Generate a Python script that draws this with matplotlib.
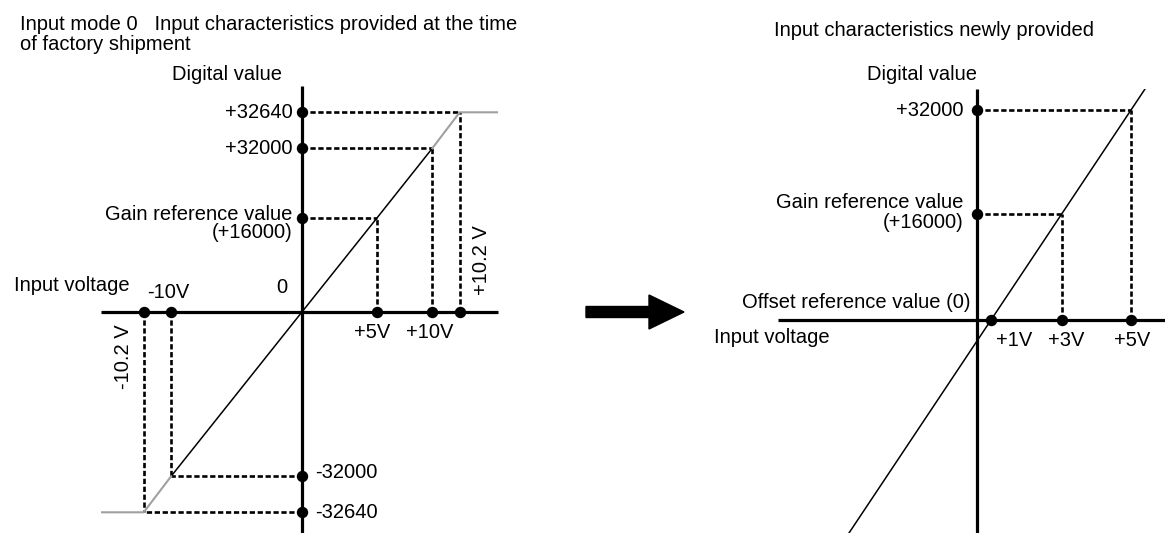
import numpy as np
import matplotlib
matplotlib.use("Agg")
import matplotlib.pyplot as plt
from matplotlib.patches import FancyArrow

plt.rcParams['font.family'] = ['Liberation Sans', 'DejaVu Sans']
plt.rcParams['font.size'] = 14.5

# factory characteristics (input mode 0)
fac_volts = [-10.2, -10, 5, 10, 10.2]
fac_digits = [32640, 32000, 16000, -32000, -32640]
fac_volt_labels = ['-10.2 V', '-10V', '+5V', '+10V', '+10.2 V']
fac_line_v = [-10, 0, 5, 10]
fac_line_d = [-32000, 0, 16000, 32000]
fac_clamp = 32640
fac_clamp_v = 10.2

# user characteristics
new_volts = [1, 3, 5]
new_digits = [32000, 16000]
new_pairs = [(3, 16000), (5, 32000)]
new_volt_labels = ['+1V', '+3V', '+5V']

W, H = 1165, 533
PT = 0.72  # points per pixel at 100 dpi


def piecewise(vals, pos):
    """Monotone piecewise-linear mapping used to stretch the schematic axes."""
    vals = np.asarray(vals, float)
    pos = np.asarray(pos, float)

    def make(a, b):
        s0 = (b[1] - b[0]) / (a[1] - a[0])
        s1 = (b[-1] - b[-2]) / (a[-1] - a[-2])

        def f(v):
            v = np.asarray(v, float)
            out = np.interp(v, a, b)
            out = np.where(v < a[0], b[0] + (v - a[0]) * s0, out)
            out = np.where(v > a[-1], b[-1] + (v - a[-1]) * s1, out)
            return out
        return f
    return make(vals, pos), make(pos, vals)


def setup(ax, xmap, ymap, box, origin):
    x0, x1, ytop, ybot = box
    ox, oy = origin
    ax.set_position([x0 / W, 1 - ybot / H, (x1 - x0) / W, (ybot - ytop) / H])
    fx, ix = piecewise(*xmap)
    fy, iy = piecewise(*ymap)
    ax.set_xscale('function', functions=(fx, ix))
    ax.set_yscale('function', functions=(fy, iy))
    ax.set_xlim(float(ix(x0 - ox)), float(ix(x1 - ox)))
    ax.set_ylim(float(iy(oy - ybot)), float(iy(oy - ytop)))
    for s in ['top', 'right']:
        ax.spines[s].set_visible(False)
    for s in ['left', 'bottom']:
        ax.spines[s].set_position(('data', 0))
        ax.spines[s].set_linewidth(2.3)
        ax.spines[s].set_capstyle('butt')
    ax.set_xticks([])
    ax.set_yticks([])
    ax.patch.set_alpha(0)


def dashed(ax, xs, ys):
    ax.plot(xs, ys, color='black', lw=1.9, linestyle=(0, (2.0, 1.0)),
            dash_capstyle='butt', zorder=2)


def label(ax, text, xy, dx, dy, **kw):
    ax.annotate(text, xy=xy, xytext=(dx * PT, dy * PT), textcoords='offset points',
                annotation_clip=False, **kw)


fig = plt.figure(figsize=(W / 100, H / 100), dpi=100)

# ---- left: factory shipment ----
ax1 = fig.add_axes([0, 0, 1, 1])
setup(ax1,
      ([-10.2, -10, 0, 5, 10, 10.2], [-158, -130.6, 0, 75, 130.6, 158]),
      ([-32640, -32000, -16000, 0, 16000, 32000, 32640], [-200, -164, -94, 0, 94, 164, 200]),
      (101, 498, 86, 533), (301.7, 312.3))

xl = ax1.get_xlim()
ax1.plot(fac_line_v, fac_line_d, color='black', lw=1.1, zorder=3)
ax1.plot([fac_line_v[-1], fac_clamp_v, xl[1]], [fac_line_d[-1], fac_clamp, fac_clamp],
         color='#a0a0a0', lw=1.5, zorder=3)
ax1.plot([-fac_line_v[-1], -fac_clamp_v, xl[0]], [-fac_line_d[-1], -fac_clamp, -fac_clamp],
         color='#a0a0a0', lw=1.5, zorder=3)

for v in fac_volts:
    d = np.interp(v, [-10.2, -10, 0, 10, 10.2], [-32640, -32000, 0, 32000, 32640])
    dashed(ax1, [v, v], [0, d])
    dashed(ax1, [0, v], [d, d])

ax1.plot(fac_volts, [0] * len(fac_volts), 'o', color='black', ms=7.2, zorder=4, clip_on=False)
ax1.plot([0] * len(fac_digits), fac_digits, 'o', color='black', ms=7.2, zorder=4, clip_on=False)

for val in fac_digits[:2]:
    label(ax1, f'+{val}', (0, val), -9.4, 0, ha='right', va='center')
label(ax1, 'Gain reference value\n(+16000)', (0, 16000), -9.4, -5, ha='right', va='center',
      multialignment='right', linespacing=0.9)
label(ax1, '-32000', (0, -32000), 13.3, 4, ha='left', va='center')
label(ax1, '-32640', (0, -32640), 13.3, 0, ha='left', va='center')
label(ax1, '0', (0, 0), -19.7, 25, ha='center', va='center')
label(ax1, fac_volt_labels[1], (-10, 0), -3, 19.3, ha='center', va='center')
label(ax1, fac_volt_labels[2], (5, 0), -5, -20.4, ha='center', va='center')
label(ax1, fac_volt_labels[3], (10, 0), -2.3, -20.4, ha='center', va='center')
label(ax1, fac_volt_labels[0], (-10.2, 0), -20.3, -44.7, ha='center', va='center', rotation=90)
label(ax1, fac_volt_labels[4], (10.2, 0), 22.2, 52, ha='center', va='center', rotation=90)
label(ax1, 'Input voltage', (0, 0), -287.7, 27, ha='left', va='center')
ax1.annotate('Digital value', xy=(0, 1), xycoords=('data', 'axes fraction'),
             xytext=(-74.7 * PT, 11 * PT), textcoords='offset points',
             ha='center', va='center', annotation_clip=False)

fig.text(19.6 / W, 1 - 25 / H, 'Input mode 0   Input characteristics provided at the time',
         ha='left', va='center')
fig.text(19.6 / W, 1 - 45 / H, 'of factory shipment', ha='left', va='center')

# ---- right: newly provided ----
ax2 = fig.add_axes([0, 0, 1, 1])
setup(ax2,
      ([0, 1, 3, 5], [0, 14, 85, 154]),
      ([0, 16000, 32000], [0, 106.5, 210]),
      (778.3, 1165, 89.3, 533), (977, 320))

ax2.axline((new_volts[0], 0), (new_volts[-1], new_digits[0]), color='black', lw=1.1, zorder=3)
for v, d in new_pairs:
    dashed(ax2, [v, v], [0, d])
    dashed(ax2, [0, v], [d, d])
ax2.plot(new_volts, [0] * len(new_volts), 'o', color='black', ms=7.2, zorder=4, clip_on=False)
ax2.plot([0] * len(new_digits), new_digits, 'o', color='black', ms=7.2, zorder=4, clip_on=False)

label(ax2, '+32000', (0, 32000), -13.7, 0, ha='right', va='center')
label(ax2, 'Gain reference value\n(+16000)', (0, 16000), -13.7, 1, ha='right', va='center',
      multialignment='right', linespacing=1.1)
label(ax2, 'Offset reference value (0)', (0, 0), -6, 17.3, ha='right', va='center')
label(ax2, 'Input voltage', (0, 0), -263.3, -17.7, ha='left', va='center')
for v, txt, dx in zip(new_volts, new_volt_labels, [23.5, 3.8, 0.8]):
    label(ax2, txt, (v, 0), dx, -20, ha='center', va='center')
ax2.annotate('Digital value', xy=(0, 1), xycoords=('data', 'axes fraction'),
             xytext=(0, 14.3 * PT), textcoords='offset points',
             ha='right', va='center', annotation_clip=False)
fig.text(774 / W, 1 - 30 / H, 'Input characteristics newly provided', ha='left', va='center')

# arrow between the two diagrams
fig.patches.append(FancyArrow(5.86, (H - 312) / 100, 0.98, 0, width=0.11,
                              head_width=0.34, head_length=0.35, length_includes_head=True,
                              color='black', transform=fig.dpi_scale_trans, figure=fig))

fig.savefig('out.png', dpi=100)
